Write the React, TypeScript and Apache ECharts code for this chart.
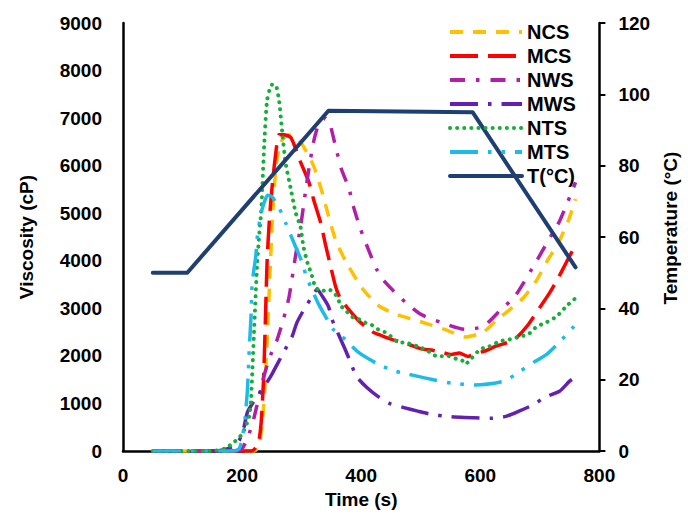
import React, { useEffect, useRef } from "react";
import * as echarts from "echarts";

// ---- data ----
const ncsTime = [50, 220, 228, 234, 239, 243, 247, 251, 257, 265, 278, 295, 310, 320, 333, 345, 358, 378, 403, 430, 460, 500, 540, 575, 605, 628, 650, 673, 695, 712, 732, 748, 760];
const ncsVisc = [0, 0, 100, 600, 1500, 2600, 3800, 4900, 6000, 6500, 6650, 6550, 6250, 6000, 5500, 4950, 4400, 3900, 3400, 3050, 2870, 2720, 2560, 2400, 2500, 2760, 2980, 3230, 3600, 3990, 4400, 4850, 5300];

const mcsTime = [50, 215, 222, 228, 232, 236, 239, 242, 246, 250, 255, 262, 270, 282, 298, 312, 320, 332, 340, 348, 357, 365, 379, 395, 407, 420, 434, 451, 470, 485, 501, 520, 535, 551, 565, 579, 593, 607, 625, 640, 658, 680, 701, 715, 730, 745, 760];
const mcsVisc = [0, 0, 60, 200, 600, 1500, 2700, 4000, 4900, 5500, 6100, 6650, 6650, 6590, 6080, 5660, 5290, 4800, 4340, 3920, 3460, 3200, 2980, 2750, 2620, 2500, 2430, 2350, 2280, 2220, 2150, 2120, 2080, 2030, 2060, 1990, 2060, 2100, 2200, 2260, 2350, 2650, 3040, 3300, 3620, 3980, 4340];

const nwsTime = [50, 190, 200, 210, 220, 234, 245, 259, 270, 279, 290, 298, 307, 312, 320, 328, 340, 347, 357, 367, 379, 387, 399, 412, 426, 441, 474, 501, 535, 574, 605, 635, 658, 696, 718, 733, 760];
const nwsVisc = [0, 0, 50, 300, 700, 1450, 1930, 2350, 2800, 3250, 4130, 4700, 5500, 5920, 6500, 6850, 7000, 6900, 6400, 5920, 5540, 5140, 4660, 4240, 3820, 3540, 3130, 2870, 2700, 2560, 2620, 2980, 3250, 4030, 4510, 4830, 5650];

const mwsTime = [50, 150, 170, 185, 195, 203, 209, 220, 234, 248, 260, 272, 284, 292, 304, 315, 326, 335, 345, 351, 362, 373, 382, 392, 410, 428, 448, 470, 495, 517, 545, 567, 590, 617, 643, 665, 690, 708, 733, 750, 760];
const mwsVisc = [0, 0, 30, 100, 220, 500, 820, 1050, 1300, 1570, 1850, 2130, 2410, 2700, 2980, 3200, 3400, 3250, 3040, 2770, 2450, 2140, 1870, 1570, 1330, 1150, 1000, 920, 840, 775, 730, 710, 700, 690, 730, 840, 980, 1130, 1260, 1470, 1560];

const ntsTime = [50, 150, 170, 183, 200, 212, 215, 220, 225, 229, 232, 237, 242, 250, 256, 262, 267, 273, 282, 290, 298, 303, 310, 317, 323, 333, 345, 357, 367, 375, 383, 395, 407, 418, 428, 440, 450, 462, 475, 495, 510, 528, 545, 562, 570, 575, 585, 600, 615, 633, 650, 667, 680, 695, 710, 728, 745, 757, 760];
const ntsVisc = [0, 0, 50, 150, 360, 730, 1090, 2500, 3880, 4600, 5010, 6400, 7380, 7700, 7700, 7380, 6750, 6060, 5500, 5010, 4720, 4300, 3950, 3700, 3450, 3360, 3400, 3290, 3040, 2950, 2830, 2780, 2700, 2650, 2560, 2500, 2410, 2290, 2280, 2200, 2120, 1990, 2000, 1930, 1900, 1830, 1950, 2140, 2200, 2310, 2350, 2410, 2450, 2620, 2700, 2830, 3050, 3190, 3200];

const mtsTime = [50, 185, 195, 200, 205, 209, 212, 215, 217, 223, 225, 232, 243, 250, 262, 273, 287, 300, 308, 317, 328, 340, 353, 373, 395, 428, 457, 478, 517, 551, 590, 640, 667, 690, 712, 733, 760];
const mtsVisc = [0, 0, 50, 250, 700, 1300, 2140, 2830, 3540, 4090, 4450, 5010, 5380, 5350, 5120, 4800, 4380, 3990, 3670, 3400, 3100, 2830, 2560, 2350, 2080, 1830, 1680, 1620, 1510, 1430, 1390, 1470, 1680, 1870, 2040, 2290, 2660];

const tempTime = [50, 108, 345, 587, 760];
const tempVal = [50, 50, 95.4, 95, 51.5];

const seriesNames = ["NCS", "MCS", "NWS", "MWS", "NTS", "MTS", "T(°C)"];
const xTicks = { min: 0, max: 800, interval: 200 };
const viscTicks = { min: 0, max: 9000, interval: 1000 };
const tempTicks = { min: 0, max: 120, interval: 20 };

const zip = (xs: number[], ys: number[]) => xs.map((x, i) => [x, ys[i]]);

const FONT = '"Liberation Sans", Arial, sans-serif';

export default function App() {
  const ref = useRef<HTMLDivElement>(null);
  useEffect(() => {
    if (!ref.current) return;
    const chart = echarts.init(ref.current, null, { renderer: "svg" });
    const labelStyle = { fontFamily: FONT, fontWeight: "bold", fontSize: 19, color: "#000" };
    const lw = 3.5;
    const mk = (name: string, data: number[][], color: string, dash: any, cap = "butt", yAxisIndex = 0, width = lw, smooth: any = 0.2) => ({
      name,
      type: "line",
      yAxisIndex,
      data,
      symbol: "none",
      smooth,
      lineStyle: { color, width, type: dash, cap, join: "round" },
      itemStyle: { color },
    });
    const plain = (v: number) => String(v);
    const option: any = {
      animation: false,
      backgroundColor: "#fff",
      grid: { left: 123, right: 84, top: 23, bottom: 61 },
      legend: {
        orient: "vertical",
        left: 443,
        top: 17,
        itemWidth: 72,
        itemHeight: 14,
        itemGap: 4,
        data: seriesNames,
        lineStyle: { width: 4 },
        itemStyle: { opacity: 0 },
        textStyle: { fontFamily: FONT, fontWeight: "bold", fontSize: 20, color: "#000" },
      },
      xAxis: {
        type: "value",
        ...xTicks,
        name: "Time (s)",
        nameLocation: "middle",
        nameGap: 38,
        nameTextStyle: labelStyle,
        axisLine: { lineStyle: { color: "#000", width: 2.5 } },
        axisTick: { show: false },
        splitLine: { show: false },
        axisLabel: { ...labelStyle, margin: 15, formatter: plain },
      },
      yAxis: [
        {
          type: "value",
          ...viscTicks,
          name: "Viscosity (cP)",
          nameLocation: "middle",
          nameGap: 87,
          nameTextStyle: labelStyle,
          axisLine: { show: true, lineStyle: { color: "#000", width: 2.5 } },
          axisTick: { show: false },
          splitLine: { show: false },
          axisLabel: { ...labelStyle, margin: 21, formatter: plain },
        },
        {
          type: "value",
          position: "right",
          ...tempTicks,
          name: "Temperature (°C)",
          nameLocation: "middle",
          nameGap: 56,
          nameTextStyle: { ...labelStyle, padding: [0, 0, 0, 18] },
          axisLine: { show: true, lineStyle: { color: "#000", width: 2.5 } },
          axisTick: { show: true, length: 6, lineStyle: { color: "#000", width: 2 } },
          splitLine: { show: false },
          axisLabel: { ...labelStyle, margin: 19, formatter: plain },
        },
      ],
      series: [
        mk("NCS", zip(ncsTime, ncsVisc), "#FFC000", [13, 10]),
        mk("MCS", zip(mcsTime, mcsVisc), "#FF0000", [28, 10]),
        mk("NWS", zip(nwsTime, nwsVisc), "#B01FA8", [15, 11, 3.5, 11]),
        mk("MWS", zip(mwsTime, mwsVisc), "#6421B0", [28, 10, 3.5, 10]),
        mk("NTS", zip(ntsTime, ntsVisc), "#16AE3A", [0.1, 7], "round", 0, 4),
        mk("MTS", zip(mtsTime, mtsVisc), "#1CBBE8", [28, 10, 3.5, 10, 3.5, 10]),
        mk("T(°C)", zip(tempTime, tempVal), "#1F3F73", "solid", "round", 1, 4, false),
      ],
    };
    chart.setOption(option);
    return () => chart.dispose();
  }, []);
  return <div ref={ref} style={{ position: "fixed", left: 0, top: 0, width: 688, height: 514, background: "#fff" }} />;
}
